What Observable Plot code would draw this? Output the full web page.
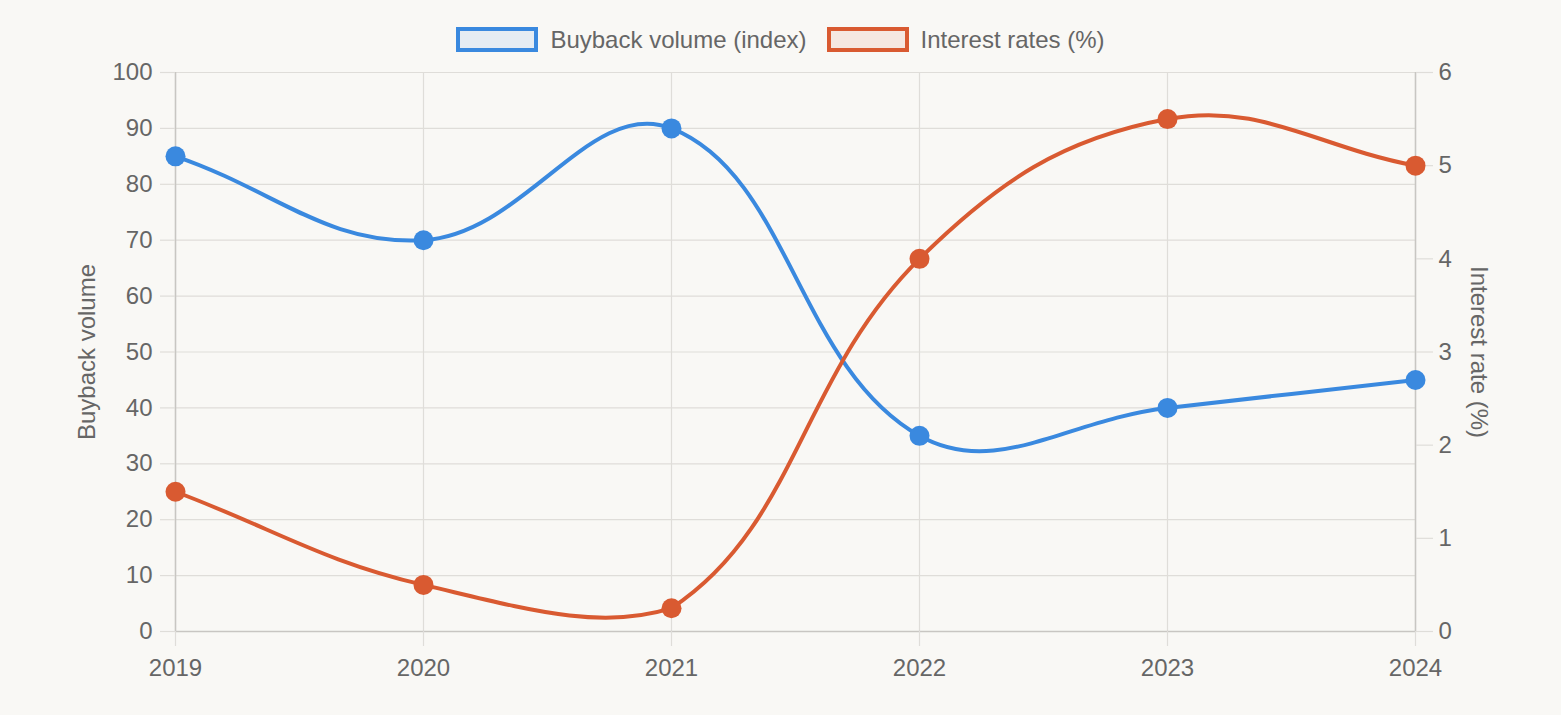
<!DOCTYPE html>
<html>
<head>
<meta charset="utf-8">
<script src="https://cdn.jsdelivr.net/npm/d3@7"></script>
<script src="https://cdn.jsdelivr.net/npm/@observablehq/plot@0.6"></script>
<style>
  html, body { margin: 0; padding: 0; background: #f9f8f5; }
  body { width: 1561px; height: 715px; overflow: hidden; font-family: "Liberation Sans", Arial, Helvetica, sans-serif; }
  #legend { height: 62px; box-sizing: border-box; padding-top: 27px; display: flex; justify-content: center; align-items: flex-start; color: #666; font-size: 24px; }
  .item { display: flex; align-items: center; height: 25px; }
  .box { width: 82px; height: 25px; box-sizing: border-box; border: 4px solid; margin-right: 12px; }
  .item + .item { margin-left: 20px; }
  #chart svg { display: block; }
</style>
</head>
<body>
<div id="legend"></div>
<div id="chart"></div>
<script>
const years = ["2019", "2020", "2021", "2022", "2023", "2024"];
const buyback = [85, 70, 90, 35, 40, 45];
const interest = [1.5, 0.5, 0.25, 4, 5.5, 5];
const leftTicks = [0, 10, 20, 30, 40, 50, 60, 70, 80, 90, 100];
const rightTicks = [0, 1, 2, 3, 4, 5, 6];
const seriesNames = ["Buyback volume (index)", "Interest rates (%)"];
const leftTitle = "Buyback volume";
const rightTitle = "Interest rate (%)";

const blue = "#3a89df";
const orange = "#d95a31";
const grid = "#dfddd9";
const border = "#c8c6c2";
const textColor = "#666";
const rightMax = 6, leftMax = 100;
const toLeft = v => v * leftMax / rightMax;

// legend
const legend = document.getElementById("legend");
[[seriesNames[0], blue, "rgba(58,137,223,0.1)"], [seriesNames[1], orange, "rgba(217,90,49,0.1)"]].forEach(([name, c, f]) => {
  const it = document.createElement("div");
  it.className = "item";
  const b = document.createElement("div");
  b.className = "box";
  b.style.borderColor = c;
  b.style.background = f;
  const t = document.createElement("span");
  t.textContent = name;
  it.appendChild(b); it.appendChild(t);
  legend.appendChild(it);
});

const W = 1561, H = 653;
const mL = 175, mR = 146, mT = 10, mB = 84;

// Chart.js-style spline (tension 0.4) as a d3 curve factory
function chartjsCurve(tension, area) {
  return (context) => {
    let pts = [];
    const cx = v => Math.max(area.left, Math.min(area.right, v));
    const cy = v => Math.max(area.top, Math.min(area.bottom, v));
    return {
      areaStart() {}, areaEnd() {},
      lineStart() { pts = []; },
      point(x, y) { pts.push([+x, +y]); },
      lineEnd() {
        const n = pts.length;
        if (!n) return;
        const cps = pts.map((p, i) => {
          const prev = i > 0 ? pts[i - 1] : p;
          const next = i < n - 1 ? pts[i + 1] : p;
          const d01 = Math.hypot(p[0] - prev[0], p[1] - prev[1]);
          const d12 = Math.hypot(next[0] - p[0], next[1] - p[1]);
          let s01 = d01 / (d01 + d12), s12 = d12 / (d01 + d12);
          if (!isFinite(s01)) s01 = 0;
          if (!isFinite(s12)) s12 = 0;
          const fa = tension * s01, fb = tension * s12;
          return {
            prev: [cx(p[0] - fa * (next[0] - prev[0])), cy(p[1] - fa * (next[1] - prev[1]))],
            next: [cx(p[0] + fb * (next[0] - prev[0])), cy(p[1] + fb * (next[1] - prev[1]))]
          };
        });
        context.moveTo(pts[0][0], pts[0][1]);
        for (let i = 1; i < n; i++) {
          context.bezierCurveTo(cps[i - 1].next[0], cps[i - 1].next[1], cps[i].prev[0], cps[i].prev[1], pts[i][0], pts[i][1]);
        }
      }
    };
  };
}
const curve = chartjsCurve(0.4, {left: mL, right: W - mR, top: mT, bottom: H - mB});

const idx = years.map((_, i) => i);

const plot = Plot.plot({
  width: W,
  height: H,
  marginLeft: mL,
  marginRight: mR,
  marginTop: mT,
  marginBottom: mB,
  style: {background: "transparent", color: textColor, fontSize: "24px", fontFamily: "\"Liberation Sans\", Arial, Helvetica, sans-serif", overflow: "visible"},
  x: {type: "point", domain: years, padding: 0},
  y: {domain: [0, leftMax]},
  marks: [
    Plot.gridY(leftTicks, {stroke: grid, strokeOpacity: 1, strokeWidth: 1.2}),
    Plot.gridX(years, {stroke: grid, strokeOpacity: 1, strokeWidth: 1.2}),
    Plot.ruleX([years[0], years[years.length - 1]], {stroke: border, strokeWidth: 1.5}),
    Plot.ruleY([0], {stroke: border, strokeWidth: 1.5}),
    Plot.axisX(years, {tickSize: 15, tickPadding: 12, stroke: grid, strokeWidth: 1.2, fill: textColor, fontSize: 24, label: null}),
    Plot.axisY(leftTicks, {anchor: "left", tickSize: 15, tickPadding: 8, stroke: grid, strokeWidth: 1.2, fill: textColor, fontSize: 24, label: null}),
    Plot.axisY(rightTicks.map(toLeft), {anchor: "right", tickSize: 17, tickPadding: 6, stroke: grid, strokeWidth: 1.2, fill: textColor, fontSize: 24, label: null, tickFormat: d => String(Math.round(d * rightMax / leftMax))}),
    Plot.text([leftTitle], {frameAnchor: "left", textAnchor: "middle", dx: -88, rotate: -90, fill: textColor, fontSize: 24}),
    Plot.text([rightTitle], {frameAnchor: "right", textAnchor: "middle", dx: 63, rotate: 90, fill: textColor, fontSize: 24}),
    Plot.line(idx, {x: i => years[i], y: i => buyback[i], stroke: blue, strokeWidth: 4, curve}),
    Plot.line(idx, {x: i => years[i], y: i => toLeft(interest[i]), stroke: orange, strokeWidth: 4, curve}),
    Plot.dot(idx, {x: i => years[i], y: i => buyback[i], r: 10, fill: blue, stroke: "none"}),
    Plot.dot(idx, {x: i => years[i], y: i => toLeft(interest[i]), r: 10, fill: orange, stroke: "none"})
  ]
});
document.getElementById("chart").appendChild(plot);
</script>
</body>
</html>
